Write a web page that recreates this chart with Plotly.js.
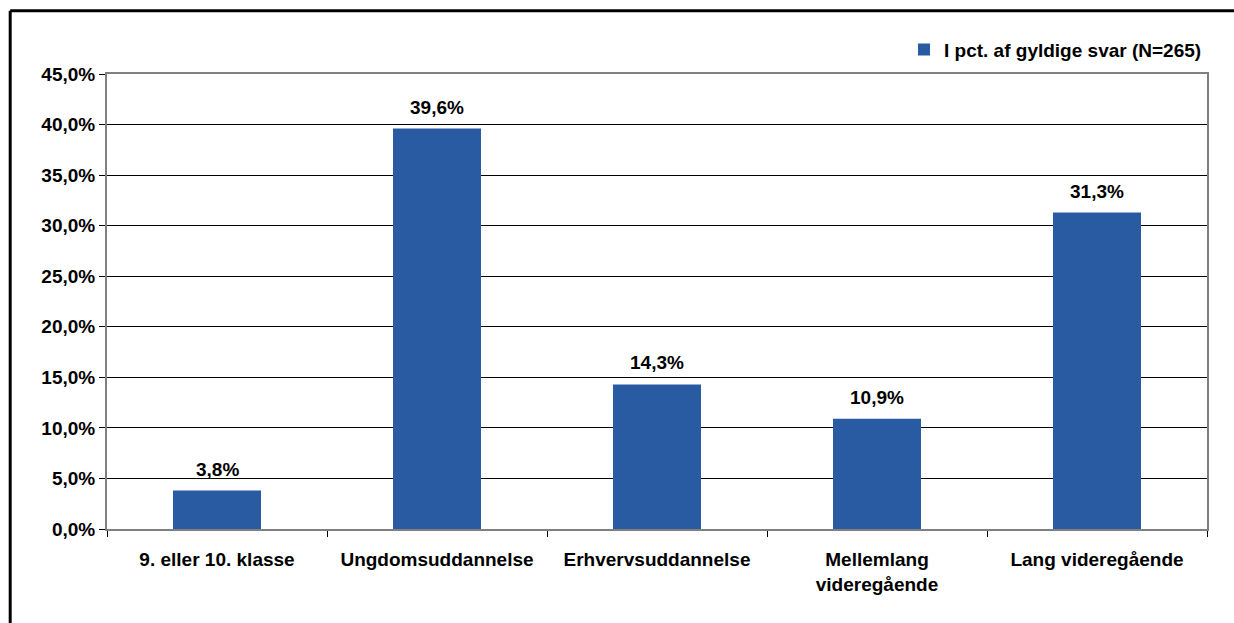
<!DOCTYPE html>
<html>
<head>
<meta charset="utf-8">
<script src="https://cdn.plot.ly/plotly-3.0.1.min.js"></script>
<style>
  body { margin: 0; background: #fff; overflow: hidden; }
  #chart { width: 1234px; height: 623px; }
</style>
</head>
<body>
<div id="chart"></div>
<script>
// Uddannelsesniveau, i pct. af gyldige svar
const categories = [
    "9. eller 10. klasse",
    "Ungdomsuddannelse",
    "Erhvervsuddannelse",
    "Mellemlang<br>videregående",
    "Lang videregående"
];
const shares = [3.8, 39.6, 14.3, 10.9, 31.3];
const seriesName = "I pct. af gyldige svar (N=265)";
const yTicks = [0, 5, 10, 15, 20, 25, 30, 35, 40, 45];

const fmt = (v) => v.toFixed(1).replace(".", ",");

const trace = {
    type: "bar",
    name: seriesName,
    x: categories,
    y: shares,
    width: 0.4,
    marker: { color: "#295BA3" },
    hoverinfo: "skip"
};

// value labels above each bar
const labels = shares.map((v, i) => ({
    x: categories[i],
    y: v,
    xref: "x",
    yref: "y",
    text: fmt(v) + "%",
    showarrow: false,
    yanchor: "bottom",
    yshift: 9,
    font: { size: 19, weight: "bold", color: "#000" }
}));

const layout = {
    width: 1234,
    height: 623,
    margin: { l: 107, r: 27, t: 74, b: 94 },
    paper_bgcolor: "#fff",
    plot_bgcolor: "#fff",
    font: { family: "Liberation Sans", size: 19, color: "#000", weight: "bold" },
    showlegend: true,
    legend: {
        x: 1, xanchor: "right",
        y: 1.012, yanchor: "bottom",
        font: { size: 19, weight: "bold" },
        itemwidth: 30,
        bgcolor: "rgba(0,0,0,0)"
    },
    xaxis: {
        type: "category",
        tickson: "boundaries",
        ticks: "outside",
        ticklen: 6,
        tickcolor: "#000",
        showline: true,
        linecolor: "#808080",
        linewidth: 2,
        mirror: true,
        showgrid: false,
        ticklabelstandoff: 12,
        tickfont: { size: 19, weight: "bold" }
    },
    yaxis: {
        range: [0, 45],
        tickvals: yTicks,
        ticktext: yTicks.map((v) => fmt(v) + "%"),
        ticks: "outside",
        ticklen: 6,
        tickcolor: "#000",
        showline: true,
        linecolor: "#808080",
        linewidth: 2,
        mirror: true,
        showgrid: true,
        gridcolor: "#000",
        gridwidth: 1,
        zeroline: false,
        tickfont: { size: 19, weight: "bold" }
    },
    bargap: 0.6,
    annotations: labels,
    // outer frame: only top and left edges fall inside the picture
    shapes: [
        {
            type: "line", xref: "paper", yref: "paper",
            x0: -0.088, x1: 1.0245, y0: 1.139, y1: 1.139,
            line: { color: "#000", width: 3 }
        },
        {
            type: "line", xref: "paper", yref: "paper",
            x0: -0.088, x1: -0.088, y0: -0.21, y1: 1.139,
            line: { color: "#000", width: 3 }
        }
    ]
};

Plotly.newPlot("chart", [trace], layout, { staticPlot: true });
</script>
</body>
</html>
